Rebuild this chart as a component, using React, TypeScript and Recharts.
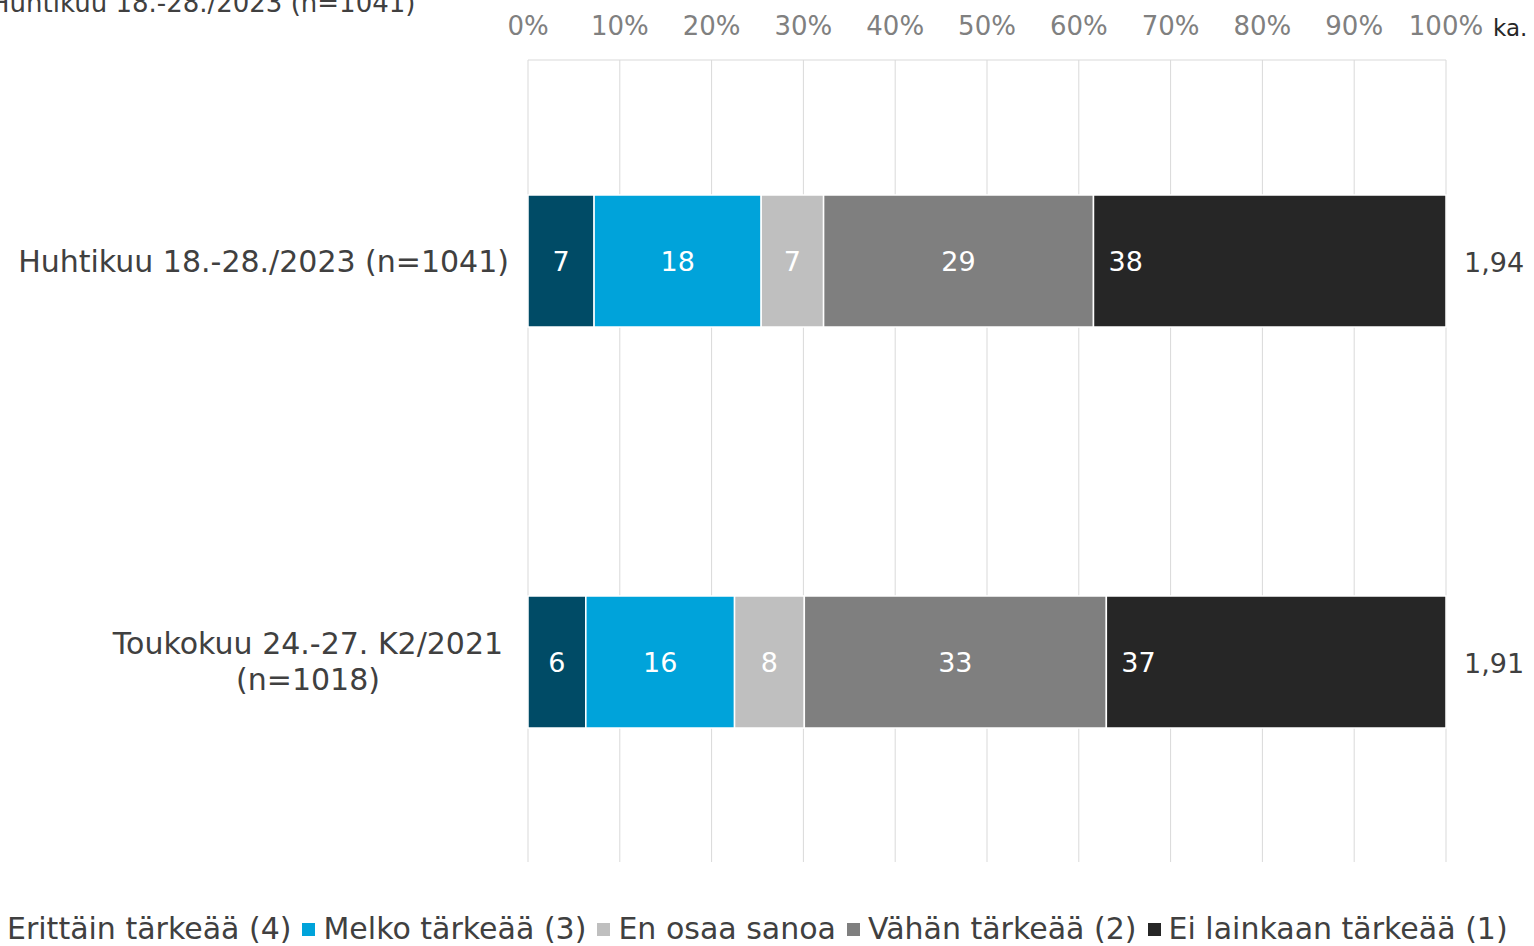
import { BarChart, Bar, XAxis, YAxis, CartesianGrid, LabelList } from 'recharts';

const categories = ['Huhtikuu 18.-28./2023 (n=1041)', 'Toukokuu 24.-27. K2/2021\n(n=1018)'];
const erittain = [7.2, 6.3];
const melko = [18.2, 16.2];
const enOsaa = [6.8, 7.6];
const vahan = [29.4, 32.9];
const eiLainkaan = [38.4, 37.0];
const averages = [1.94, 1.91];
const xTicks = [0, 10, 20, 30, 40, 50, 60, 70, 80, 90, 100];

const series = [
  { key: 'erittain', name: 'Erittäin tärkeää (4)', color: '#004B66', values: erittain },
  { key: 'melko', name: 'Melko tärkeää (3)', color: '#00A3DA', values: melko },
  { key: 'enOsaa', name: 'En osaa sanoa', color: '#BFBFBF', values: enOsaa },
  { key: 'vahan', name: 'Vähän tärkeää (2)', color: '#7F7F7F', values: vahan },
  { key: 'eiLainkaan', name: 'Ei lainkaan tärkeää (1)', color: '#262626', values: eiLainkaan },
];

const data = categories.map((name, i) => {
  const row: any = { name, avg: averages[i] };
  series.forEach(s => { row[s.key] = s.values[i]; });
  return row;
});

const FONT = '"DejaVu Sans", Verdana, sans-serif';

const CategoryTick = (props: any) => {
  const { x, y, payload } = props;
  const lines: string[] = String(payload.value).split('\n');
  if (lines.length === 1) {
    return (
      <text x={x - 11} y={y + 1} textAnchor="end" dominantBaseline="central" fill="#404040" fontSize={30} fontFamily={FONT}>
        {lines[0]}
      </text>
    );
  }
  const lh = 36;
  const cx = x - 212;
  return (
    <text x={cx} y={y} textAnchor="middle" fill="#404040" fontSize={30} fontFamily={FONT}>
      {lines.map((l, i) => (
        <tspan key={i} x={cx} y={y + (i - (lines.length - 1) / 2) * lh} dominantBaseline="central">{l}</tspan>
      ))}
    </text>
  );
};

const AvgLabel = (props: any) => {
  const { x, y, width, height, value } = props;
  return (
    <text x={x + width + 18} y={y + height / 2 + 1} dominantBaseline="central" fill="#404040" fontSize={27} fontFamily={FONT}>
      {Number(value).toFixed(2).replace('.', ',')}
    </text>
  );
};

export default function App() {
  return (
    <div style={{ position: 'absolute', left: 0, top: 0, width: 1534, height: 946, overflow: 'hidden', background: '#fff', fontFamily: FONT }}>
      {/* title cut off at the top edge, as in the source */}
      <div style={{ position: 'absolute', left: -10, top: -11, fontSize: 26, lineHeight: '28px', color: '#404040', whiteSpace: 'nowrap' }}>
        Huhtikuu 18.-28./2023 (n=1041)
      </div>
      <div style={{ position: 'absolute', left: 1493, top: 14, fontSize: 23, lineHeight: '28px', color: '#262626' }}>ka.</div>

      <BarChart
        width={1534}
        height={946}
        data={data}
        layout="vertical"
        margin={{ top: 0, right: 88, bottom: 84, left: 0 }}
        barSize={132}
      >
        <CartesianGrid horizontal={false} stroke="#D9D9D9" />
        <XAxis
          type="number"
          orientation="top"
          domain={[0, 100]}
          ticks={xTicks}
          tickFormatter={(v) => `${v}%`}
          height={60}
          tickLine={false}
          tickSize={0}
          tickMargin={25}
          axisLine={{ stroke: '#D9D9D9' }}
          tick={{ fill: '#808080', fontSize: 26, fontFamily: FONT }}
          interval={0}
        />
        <YAxis type="category" dataKey="name" width={528} axisLine={false} tickLine={false} tick={<CategoryTick />} />
        {series.map((s, i) => (
          <Bar key={s.key} dataKey={s.key} name={s.name} stackId="a" fill={s.color} stroke="#fff" strokeWidth={1.5} isAnimationActive={false}>
            {i < series.length - 1 ? (
              <LabelList dataKey={s.key} position="center" fill="#fff" fontSize={27} fontFamily={FONT} formatter={(v: any) => Math.round(v)} />
            ) : (
              <LabelList dataKey={s.key} position="insideLeft" offset={15} fill="#fff" fontSize={27} fontFamily={FONT} formatter={(v: any) => Math.round(v)} />
            )}
            {i === series.length - 1 && <LabelList dataKey="avg" content={<AvgLabel />} />}
          </Bar>
        ))}
      </BarChart>

      <div style={{ position: 'absolute', left: -14, top: 909, display: 'flex', alignItems: 'center', gap: 11, whiteSpace: 'nowrap' }}>
        {series.map(s => (
          <div key={s.key} style={{ display: 'flex', alignItems: 'center' }}>
            <span style={{ display: 'inline-block', width: 13, height: 13, background: s.color, marginRight: 8 }} />
            <span style={{ fontSize: 30, color: '#404040', lineHeight: '40px' }}>{s.name}</span>
          </div>
        ))}
      </div>
    </div>
  );
}
